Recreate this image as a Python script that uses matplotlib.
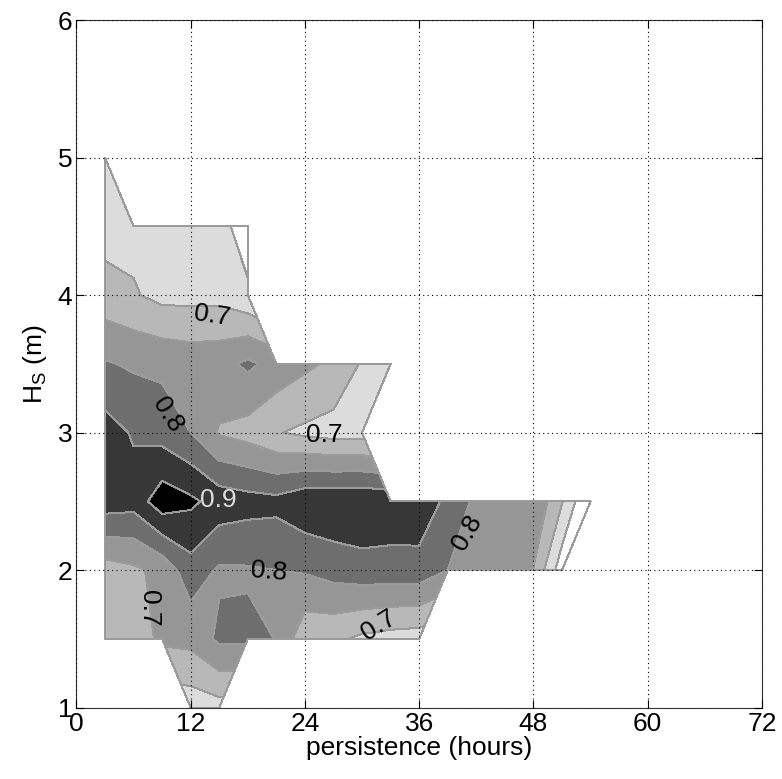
import numpy as np
import matplotlib
matplotlib.use('Agg')
import matplotlib.pyplot as plt

plt.rcParams['font.family'] = ['Liberation Sans', 'DejaVu Sans']
plt.rcParams['mathtext.fontset'] = 'custom'
plt.rcParams['mathtext.rm'] = 'Liberation Sans'

nan = np.nan

# persistence (hours) and significant wave height (m) grid
persistence = np.arange(3, 55, 3)
hs = np.array([1.0, 1.5, 2.0, 2.5, 3.0, 3.5, 4.0, 4.5, 5.0])

# values, one row per Hs
row_100 = [nan, nan, nan, 0.67, 0.68] + [nan] * 13
row_150 = [0.72, 0.725, 0.76, 0.765, 0.81, 0.81, 0.799, 0.713, 0.71, 0.69, 0.68, 0.675] + [nan] * 6
row_200 = [0.726, 0.74, 0.765, 0.83, 0.793, 0.795, 0.80, 0.805, 0.82, 0.83, 0.83, 0.83,
           0.80, 0.78, 0.77, 0.748, 0.62, nan]
row_250 = [0.877, 0.87, 0.93, 0.91, 0.88, 0.87, 0.865, 0.888, 0.892, 0.893, 0.885, 0.886,
           0.837, 0.789, 0.785, 0.795, 0.703, 0.59]
row_300 = [0.872, 0.845, 0.83, 0.80, 0.745, 0.73, 0.703, 0.69, 0.68, 0.68] + [nan] * 8
row_350 = [0.805, 0.793, 0.788, 0.78, 0.783, 0.81, 0.783, 0.76, 0.74, 0.695, 0.675] + [nan] * 7
row_400 = [0.72, 0.705, 0.685, 0.685, 0.685, 0.66] + [nan] * 12
row_450 = [0.68, 0.685, 0.68, 0.68, 0.67, 0.62] + [nan] * 12
row_500 = [0.67] + [nan] * 17

levels = [0.0, 0.65, 0.7, 0.75, 0.8, 0.85, 0.9, 1.0]
band_colors = ['white', '#dcdcdc', '#b8b8b8', '#969696', '#6e6e6e', '#373737', '#000000']

# contour labels: text, x, y, rotation, colour
labels = [
    ('0.7', 14.3, 3.85, -8, 'black'),
    ('0.8', 9.6, 3.13, -58, 'black'),
    ('0.7', 26.0, 2.98, 0, 'black'),
    ('0.9', 14.9, 2.51, 0, '#dcdcdc'),
    ('0.8', 20.2, 1.99, -5, 'black'),
    ('0.8', 41.0, 2.27, 60, 'black'),
    ('0.7', 31.8, 1.60, 32, 'black'),
    ('0.7', 7.6, 1.72, -90, 'black'),
]

Z = np.ma.masked_invalid(np.array([row_100, row_150, row_200, row_250, row_300,
                                   row_350, row_400, row_450, row_500]))

fig = plt.figure(figsize=(7.82, 7.79), dpi=100)
ax = fig.add_axes([0.0977, 0.0915, 0.8767, 0.8828])

cs = ax.contourf(persistence, hs, Z, levels=levels, colors=band_colors)
cs.set_edgecolor('#9b9b9b')
cs.set_linewidth(0.7)

for txt, x, y, rot, col in labels:
    ax.text(x, y, txt, fontsize=19, color=col, rotation=rot,
            ha='center', va='center', rotation_mode='anchor')

ax.set_xlim(0, 72)
ax.set_ylim(1, 6)
ax.set_xticks(np.arange(0, 73, 12))
ax.set_yticks(np.arange(1, 7, 1))
ax.grid(True, linestyle=(0, (1, 3)), color='black', linewidth=0.8)
ax.set_axisbelow(False)
ax.tick_params(direction='in', top=True, right=True, labelsize=19, length=6, pad=3)
for s in ax.spines.values():
    s.set_linewidth(0.8)
    s.set_color('#333333')
ax.set_xlabel('persistence (hours)', fontsize=19, labelpad=0)
ax.set_ylabel(r'H$_{\rm S}$ (m)', fontsize=19, labelpad=6)

fig.savefig('out.png', dpi=100)
